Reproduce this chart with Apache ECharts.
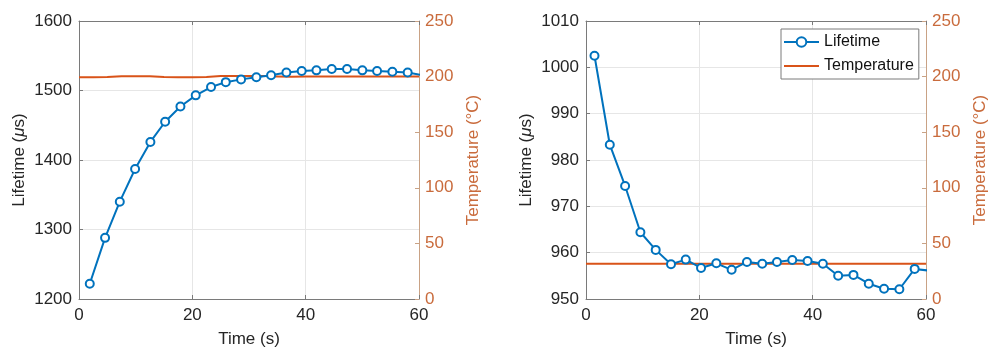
<!DOCTYPE html>
<html>
<head>
<meta charset="utf-8">
<script src="https://cdn.jsdelivr.net/npm/echarts@6/dist/echarts.min.js"></script>
<style>
html,body{margin:0;padding:0;background:#fff;}
#c{width:991px;height:354px;}
</style>
</head>
<body>
<div id="c"></div>
<script>
// ---- Data ----
var xTicks = [0, 20, 40, 60];

// Left panel
var leftTime = [1.9,4.6,7.2,9.9,12.6,15.2,17.9,20.6,23.3,25.9,28.6,31.3,33.9,36.6,39.3,41.9,44.6,47.3,50.0,52.6,55.3,58.0,60.6];
var leftLifetime = [1222,1288,1340,1387,1426,1455,1477,1493,1505,1512,1516,1519,1522,1526,1528,1529,1531,1531,1529,1528,1527,1526,1522];
var tempTime = [0,2.5,5,7.5,10,12.5,15,17.5,20,22.5,25,27.5,30,32.5,35,37.5,40,42.5,45,47.5,50,52.5,55,57.5,60];
var leftTemp = [199.5,199.5,199.6,200.4,200.4,200.3,199.6,199.5,199.5,199.7,200.5,200.6,200.6,200.5,200.2,199.9,200.1,200.2,200.2,200.2,200.2,200.2,200.2,200.2,200.2];

// Right panel
var rightTime = [1.5,4.2,6.9,9.6,12.3,15.0,17.6,20.3,23.0,25.7,28.4,31.1,33.7,36.4,39.1,41.8,44.5,47.2,49.9,52.6,55.3,58.0,60.7];
var rightLifetime = [1002.5,983.3,974.4,964.4,960.6,957.5,958.5,956.7,957.7,956.3,958.0,957.6,958.0,958.4,958.2,957.6,955.0,955.2,953.3,952.2,952.1,956.5,956.1];
var rightTemp = [31.7,31.7,31.7,31.7,31.7,31.7,31.7,31.7,31.7,31.7,31.7,31.7,31.7,31.7,31.7,31.7,31.7,31.7,31.7,31.7,31.7,31.7,31.7,31.7,31.7];

var leftYRange = [1200, 1600, 100];
var rightYRange = [950, 1010, 10];
var tempRange = [0, 250, 50];

// ---- Styles ----
var FONT = "'Liberation Sans', Arial, Helvetica, sans-serif";
var DARK = '#262626';
var ORANGE = '#D95319';
var ORANGE_TXT = '#C96B3C';
var BLUE = '#0072BD';
var AXIS_GRAY = '#7a7a7a';
var GRID_GRAY = '#e6e6e6';

function pairs(xs, ys){ return xs.map(function(x,i){ return [x, ys[i]]; }); }
function plain(v){ return String(v); }

function xAxisBottom(gi){
  return {
    type:'value', gridIndex: gi, min: xTicks[0], max: xTicks[xTicks.length-1], interval: 20,
    position:'bottom',
    name:'Time (s)', nameLocation:'middle', nameGap: 32,
    nameTextStyle:{fontFamily:FONT, fontSize:17, color:DARK},
    axisLine:{show:true, onZero:false, lineStyle:{color:AXIS_GRAY, width:1}},
    axisTick:{show:true, inside:true, length:4, lineStyle:{color:AXIS_GRAY}},
    axisLabel:{fontFamily:FONT, fontSize:17, color:DARK, margin:8, formatter:plain},
    splitLine:{show:true, lineStyle:{color:GRID_GRAY, width:1}}
  };
}
function xAxisTop(gi){
  return {
    type:'value', gridIndex: gi, min: xTicks[0], max: xTicks[xTicks.length-1], interval: 20,
    position:'top',
    axisLine:{show:true, onZero:false, lineStyle:{color:AXIS_GRAY, width:1}},
    axisTick:{show:true, inside:true, length:4, lineStyle:{color:AXIS_GRAY}},
    axisLabel:{show:false},
    splitLine:{show:false}
  };
}
function yAxisLeft(gi, r){
  return {
    type:'value', gridIndex: gi, min:r[0], max:r[1], interval:r[2], position:'left',
    name:'Lifetime ({i|μ}s)', nameLocation:'middle', nameRotate:90, nameGap: 51,
    nameTextStyle:{fontFamily:FONT, fontSize:17, color:DARK,
      rich:{i:{fontFamily:FONT, fontSize:17, color:DARK, fontStyle:'italic'}}},
    axisLine:{show:true, onZero:false, lineStyle:{color:AXIS_GRAY, width:1}},
    axisTick:{show:true, inside:true, length:4, lineStyle:{color:AXIS_GRAY}},
    axisLabel:{fontFamily:FONT, fontSize:17, color:DARK, margin:7, formatter:plain},
    splitLine:{show:true, lineStyle:{color:GRID_GRAY, width:1}}
  };
}
function yAxisRight(gi){
  return {
    type:'value', gridIndex: gi, min:tempRange[0], max:tempRange[1], interval:tempRange[2], position:'right',
    name:'Temperature (°C)', nameLocation:'middle', nameRotate:90, nameGap: 46,
    nameTextStyle:{fontFamily:FONT, fontSize:17, color:ORANGE_TXT},
    axisLine:{show:true, onZero:false, lineStyle:{color:'#c9a285', width:1}},
    axisTick:{show:true, inside:true, length:4, lineStyle:{color:'#c9a285'}},
    axisLabel:{fontFamily:FONT, fontSize:17, color:ORANGE_TXT, margin:6, formatter:plain},
    splitLine:{show:false}
  };
}

var lifetimeStyle = {
  type:'line', name:'Lifetime', symbol:'emptyCircle', symbolSize:8, z:3,
  lineStyle:{color:BLUE, width:2},
  itemStyle:{color:BLUE, borderColor:BLUE, borderWidth:1.8},
  emphasis:{disabled:true}, animation:false
};
var tempStyle = {
  type:'line', name:'Temperature', symbol:'none', showSymbol:false, z:2,
  lineStyle:{color:ORANGE, width:2}, itemStyle:{color:ORANGE},
  emphasis:{disabled:true}, animation:false
};

var chart = echarts.init(document.getElementById('c'), null, {renderer:'canvas'});
chart.setOption({
  backgroundColor:'#ffffff',
  animation:false,
  grid:[
    {left:79, right:572, top:21, bottom:55, show:false},
    {left:586, right:65, top:21, bottom:55, show:false}
  ],
  legend:{
    orient:'vertical', left:781, top:29,
    data:[
      {name:'Lifetime'},
      {name:'Temperature', icon:'path://M0,0 L36,0 L36,2.2 L0,2.2 Z'}
    ],
    itemWidth:35, itemHeight:12, itemGap:8,
    padding:[5,5,5,2],
    borderColor:'#7a7a7a', borderWidth:1, backgroundColor:'#ffffff',
    textStyle:{fontFamily:FONT, fontSize:16, color:'#111'},
    selectedMode:false
  },
  xAxis:[xAxisBottom(0), xAxisTop(0), xAxisBottom(1), xAxisTop(1)],
  yAxis:[yAxisLeft(0, leftYRange), yAxisRight(0), yAxisLeft(1, rightYRange), yAxisRight(1)],
  series:[
    Object.assign({}, tempStyle, {xAxisIndex:0, yAxisIndex:1, data:pairs(tempTime, leftTemp)}),
    Object.assign({}, lifetimeStyle, {xAxisIndex:0, yAxisIndex:0, data:pairs(leftTime, leftLifetime)}),
    Object.assign({}, tempStyle, {xAxisIndex:2, yAxisIndex:3, data:pairs(tempTime, rightTemp)}),
    Object.assign({}, lifetimeStyle, {xAxisIndex:2, yAxisIndex:2, data:pairs(rightTime, rightLifetime)})
  ]
});
</script>
</body>
</html>
